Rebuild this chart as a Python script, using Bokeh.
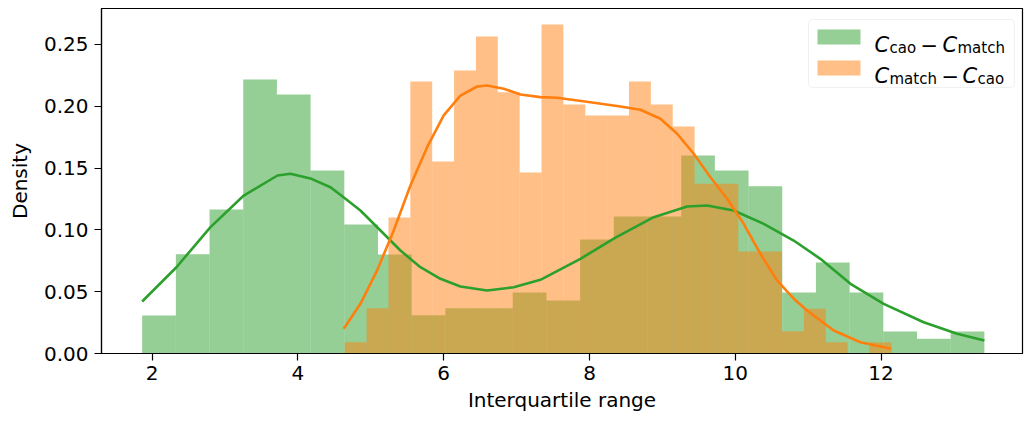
import numpy as np
from bokeh.plotting import figure
from bokeh.models import Range1d, FixedTicker, PrintfTickFormatter, BoxAnnotation, Label
from bokeh.embed import file_html
from bokeh.resources import INLINE

# ---------------- data ----------------
# C_cao - C_match : histogram (25 bins, density)
green_bin_start = 1.863
green_bin_end = 13.417
green_density = [0.0307, 0.0803, 0.1165, 0.2217, 0.2095, 0.1481, 0.1044, 0.0801,
                 0.0310, 0.0367, 0.0367, 0.0494, 0.0429, 0.0922, 0.1108, 0.1108,
                 0.1602, 0.1481, 0.1354, 0.0494, 0.0736, 0.0494, 0.0178, 0.0119, 0.0178]

# C_match - C_cao : histogram (25 bins, density)
orange_bin_start = 4.642
orange_bin_end = 12.141
orange_density = [0.0091, 0.0367, 0.1100, 0.2201, 0.1553, 0.2290, 0.2565, 0.2114,
                  0.1464, 0.2662, 0.2015, 0.1926, 0.1926, 0.2201, 0.2015, 0.1837,
                  0.1373, 0.1373, 0.0825, 0.0825, 0.0180, 0.0362, 0.0091, 0.0, 0.0091]

# KDE curves
green_kde_x = [1.863, 2.333, 2.800, 3.257, 3.719, 3.897, 4.185, 4.446, 4.652, 4.857,
               5.132, 5.406, 5.680, 5.955, 6.229, 6.595, 6.960, 7.326, 7.875, 8.350,
               8.881, 9.339, 9.613, 9.978, 10.390, 10.801, 11.167, 11.580, 12.036,
               12.584, 13.043, 13.417]
green_kde_y = [0.0421, 0.0698, 0.1022, 0.1278, 0.1440, 0.1454, 0.1413, 0.1345, 0.1252, 0.1157,
               0.0995, 0.0833, 0.0698, 0.0604, 0.0542, 0.0510, 0.0536, 0.0596, 0.0766, 0.0935,
               0.1103, 0.1189, 0.1197, 0.1157, 0.1049, 0.0914, 0.0766, 0.0564, 0.0402,
               0.0253, 0.0159, 0.0105]

orange_kde_x = [4.628, 4.857, 5.086, 5.314, 5.543, 5.772, 6.000, 6.229, 6.458, 6.595,
                6.823, 7.052, 7.326, 7.556, 8.012, 8.424, 8.699, 8.973, 9.202, 9.429,
                9.658, 9.887, 10.115, 10.344, 10.573, 10.801, 10.985, 11.350, 11.716, 12.141]
orange_kde_y = [0.0200, 0.0402, 0.0672, 0.0995, 0.1359, 0.1669, 0.1926, 0.2087, 0.2160, 0.2168,
                0.2142, 0.2095, 0.2074, 0.2069, 0.2033, 0.1998, 0.1972, 0.1899, 0.1778, 0.1616,
                0.1426, 0.1252, 0.1049, 0.0807, 0.0591, 0.0443, 0.0348, 0.0186, 0.0091, 0.0038]

x_ticks = [2, 4, 6, 8, 10, 12]
y_ticks = [0.0, 0.05, 0.10, 0.15, 0.20, 0.25]

# ---------------- styling ----------------
GREEN = "#2ca02c"
ORANGE = "#ff7f0e"
FONT = "DejaVu Sans"

p = figure(width=1024, height=423, output_backend="svg", toolbar_location=None,
           x_range=Range1d(1.305, 13.94), y_range=Range1d(0, 0.2791),
           min_border_left=101, min_border_right=2, min_border_top=8, min_border_bottom=70)

p.xgrid.visible = False
p.ygrid.visible = False
p.outline_line_color = "black"
p.outline_line_width = 1.2
p.background_fill_color = "white"
p.border_fill_color = "white"

g_edges = np.linspace(green_bin_start, green_bin_end, len(green_density) + 1)
o_edges = np.linspace(orange_bin_start, orange_bin_end, len(orange_density) + 1)

p.quad(left=g_edges[:-1], right=g_edges[1:], bottom=0, top=green_density,
       fill_color=GREEN, fill_alpha=0.5, line_color=None)
p.quad(left=o_edges[:-1], right=o_edges[1:], bottom=0, top=orange_density,
       fill_color=ORANGE, fill_alpha=0.5, line_color=None)

p.line(green_kde_x, green_kde_y, line_color=GREEN, line_width=2.6, line_join="round")
p.line(orange_kde_x, orange_kde_y, line_color=ORANGE, line_width=2.6, line_join="round")

for ax in (p.xaxis[0], p.yaxis[0]):
    ax.axis_line_color = "black"
    ax.axis_line_width = 1.2
    ax.major_tick_line_color = "black"
    ax.major_tick_line_width = 1.2
    ax.major_tick_out = 7
    ax.major_tick_in = 0
    ax.minor_tick_line_color = None
    ax.major_label_text_font = FONT
    ax.major_label_text_font_size = "20px"
    ax.major_label_text_color = "black"
    ax.axis_label_text_font = FONT
    ax.axis_label_text_font_size = "20px"
    ax.axis_label_text_font_style = "normal"
    ax.axis_label_text_color = "black"

p.xaxis.ticker = FixedTicker(ticks=x_ticks)
p.yaxis.ticker = FixedTicker(ticks=y_ticks)
p.yaxis.formatter = PrintfTickFormatter(format="%.2f")
p.xaxis.axis_label = "Interquartile range"
p.yaxis.axis_label = "Density"
p.xaxis.major_label_standoff = 5
p.yaxis.major_label_standoff = 6
p.xaxis.axis_label_standoff = 5
p.yaxis.axis_label_standoff = 9

# ---------------- legend (built by hand for sub-scripted labels) ----------------
def box(l, r, t, b, **kw):
    p.add_layout(BoxAnnotation(left=l, right=r, top=t, bottom=b,
                               left_units="canvas", right_units="canvas",
                               top_units="canvas", bottom_units="canvas", **kw))

box(808, 1014, 19, 87, fill_color="white", fill_alpha=0.8,
    line_color="#cccccc", line_width=1, border_radius=4)
box(817, 860, 29, 44, fill_color=GREEN, fill_alpha=0.5, line_color=None)
box(817, 860, 60, 75, fill_color=ORANGE, fill_alpha=0.5, line_color=None)

def piece(x, y, text, size, style="normal"):
    p.add_layout(Label(x=x, y=y, x_units="canvas", y_units="canvas", text=text,
                       text_font=FONT, text_font_size=size, text_font_style=style,
                       text_color="black", text_baseline="alphabetic", text_align="left"))

# row 1: C_cao - C_match
piece(874, 44, "C", "21px", "italic")
piece(889, 47, "cao", "15px")
piece(920, 44, "\u2212", "21px")
piece(942, 44, "C", "21px", "italic")
piece(957, 47, "match", "15px")
# row 2: C_match - C_cao
piece(874, 75, "C", "21px", "italic")
piece(889, 78, "match", "15px")
piece(941, 75, "\u2212", "21px")
piece(962, 75, "C", "21px", "italic")
piece(977, 78, "cao", "15px")

open("out.html", "w").write(file_html(p, INLINE))
